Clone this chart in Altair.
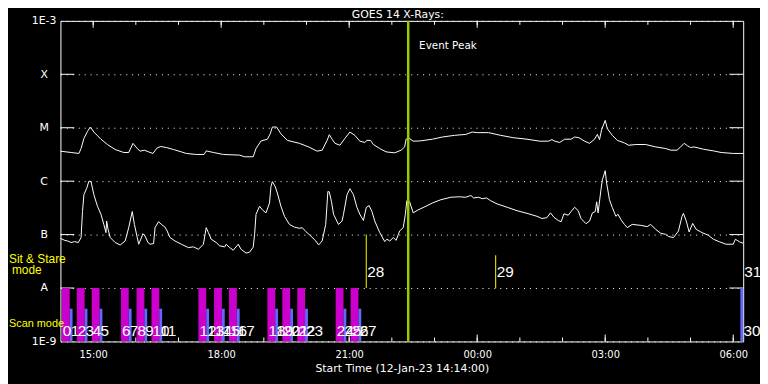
import altair as alt
import pandas as pd

FONT = "DejaVu Sans"
NUM_FONT = "Liberation Sans"

TITLE = "GOES 14 X-Rays:"
X_TITLE = "Start Time (12-Jan-23 14:14:00)"

# ---- GOES 14 light curves: minutes after 14:14 UT, flux in W/m^2 ----
long_t = [0, 15, 26, 29, 33, 38, 42, 47, 57, 66,
          77, 89, 96, 102, 108, 112, 118, 124, 130, 136,
          141, 149, 159, 170, 177, 191, 202, 205, 215, 229,
          252, 259, 271, 275, 282, 291, 295, 298, 304, 310,
          319, 336, 349, 361, 368, 375, 378, 382, 386, 393,
          400, 407, 414, 421, 428, 431, 436, 440, 449, 458,
          470, 479, 484, 486, 490, 496, 505, 523, 537, 554,
          570, 579, 586, 602, 619, 637, 656, 674, 686, 691,
          695, 702, 709, 718, 723, 729, 737, 744, 751, 755,
          758, 761, 766, 769, 776, 783, 793, 799, 809, 823,
          837, 851, 858, 867, 872, 877, 882, 886, 891, 904,
          918, 929, 946, 960]
long_flux = [3.64e-6, 3.44e-6, 3.30e-6, 4.08e-6, 6.3e-6, 8.5e-6, 1.03e-5, 8.3e-6, 6.1e-6, 4.85e-6,
             3.91e-6, 3.44e-6, 3.44e-6, 5.1e-6, 4.08e-6, 3.64e-6, 3.80e-6, 3.53e-6, 3.30e-6, 4.19e-6,
             4.45e-6, 4.26e-6, 3.91e-6, 3.53e-6, 3.30e-6, 3.16e-6, 3.16e-6, 3.69e-6, 3.44e-6, 3.16e-6,
             3.07e-6, 2.86e-6, 2.86e-6, 4.08e-6, 5.65e-6, 6.1e-6, 7.7e-6, 1.03e-5, 1.03e-5, 7.7e-6,
             5.8e-6, 5.1e-6, 4.37e-6, 3.64e-6, 3.80e-6, 5.8e-6, 7.4e-6, 6.1e-6, 5.1e-6, 4.7e-6,
             6.3e-6, 8.3e-6, 7.2e-6, 5.6e-6, 5.3e-6, 5.8e-6, 5.8e-6, 4.85e-6, 4.08e-6, 3.53e-6,
             3.39e-6, 3.80e-6, 4.37e-6, 6.1e-6, 6.4e-6, 5.6e-6, 5.65e-6, 6.1e-6, 6.7e-6, 7.2e-6,
             7.5e-6, 8.3e-6, 8.1e-6, 8.1e-6, 7.2e-6, 6.5e-6, 6.1e-6, 5.6e-6, 5.6e-6, 6.0e-6,
             5.6e-6, 5.3e-6, 6.1e-6, 6.1e-6, 6.7e-6, 6.5e-6, 5.6e-6, 5.1e-6, 6.1e-6, 7.5e-6,
             6.0e-6, 9.2e-6, 1.37e-5, 9.6e-6, 7.2e-6, 5.8e-6, 5.2e-6, 4.7e-6, 4.85e-6, 4.85e-6,
             4.37e-6, 4.08e-6, 3.80e-6, 3.80e-6, 4.37e-6, 5.1e-6, 4.56e-6, 4.26e-6, 4.37e-6, 3.96e-6,
             3.69e-6, 3.44e-6, 3.30e-6, 3.30e-6]

short_t = [0, 6, 10, 15, 20, 25, 29, 31, 33, 37,
           40, 43, 47, 52, 57, 61, 64, 65, 67, 70,
           77, 84, 91, 96, 101, 104, 108, 110, 113, 116,
           119, 123, 126, 131, 133, 138, 142, 147, 150, 154,
           161, 170, 180, 187, 194, 201, 205, 208, 212, 219,
           224, 231, 233, 238, 243, 250, 254, 261, 266, 271,
           273, 275, 280, 284, 289, 294, 296, 298, 302, 305,
           310, 315, 322, 329, 336, 340, 345, 352, 359, 363,
           368, 373, 376, 378, 381, 384, 391, 396, 398, 403,
           407, 412, 417, 421, 426, 430, 434, 438, 442, 449,
           456, 459, 463, 468, 472, 477, 482, 485, 487, 491,
           496, 503, 514, 523, 535, 549, 561, 570, 577, 581,
           588, 593, 599, 605, 614, 628, 642, 656, 670, 677,
           684, 689, 694, 700, 704, 708, 714, 718, 723, 728,
           732, 739, 744, 748, 752, 754, 756, 760, 762, 766,
           768, 772, 776, 781, 784, 788, 793, 797, 804, 816,
           825, 830, 837, 844, 851, 855, 862, 869, 874, 876,
           880, 884, 889, 894, 902, 911, 918, 927, 936, 946,
           949, 955, 960]
short_flux = [8.5e-8, 7.8e-8, 7.6e-8, 7.1e-8, 7.4e-8, 7.1e-8, 8.8e-8, 2.7e-7, 5.6e-7, 7.4e-7,
              1.0e-6, 9.8e-7, 5.6e-7, 3.4e-7, 2.4e-7, 1.55e-7, 1.09e-7, 1.79e-7, 1.25e-7, 8.8e-8,
              7.1e-8, 6.4e-8, 7.6e-8, 1.35e-7, 2.7e-7, 1.55e-7, 8.8e-8, 6.6e-8, 8.2e-8, 1.04e-7,
              9.4e-8, 7.1e-8, 6.6e-8, 6.8e-8, 1.35e-7, 1.74e-7, 1.55e-7, 1.38e-7, 1.17e-7, 8.8e-8,
              7.6e-8, 6.6e-8, 5.7e-8, 5.9e-8, 5.3e-8, 6.6e-8, 1.35e-7, 1.09e-7, 8.2e-8, 7.1e-8,
              6.15e-8, 5.9e-8, 6.6e-8, 5.7e-8, 5.1e-8, 6.6e-8, 5.3e-8, 4.5e-8, 4.7e-8, 5.8e-8,
              1.01e-7, 2.4e-7, 3.4e-7, 2.9e-7, 2.55e-7, 3.9e-7, 7.9e-7, 9.8e-7, 7.9e-7, 6.0e-7,
              3.4e-7, 2.2e-7, 1.55e-7, 1.38e-7, 1.31e-7, 1.35e-7, 1.14e-7, 9.4e-8, 7.6e-8, 6.4e-8,
              7.6e-8, 1.55e-7, 6.4e-7, 6.3e-7, 4.2e-7, 2.4e-7, 1.55e-7, 1.79e-7, 2.4e-7, 5.6e-7,
              7.2e-7, 5.6e-7, 3.2e-7, 2.4e-7, 1.84e-7, 3.2e-7, 3.5e-7, 2.7e-7, 1.79e-7, 1.09e-7,
              7.4e-8, 8.2e-8, 7.6e-8, 8.8e-8, 7.8e-8, 1.17e-7, 1.35e-7, 2.4e-7, 4.3e-7, 4.1e-7,
              2.55e-7, 2.9e-7, 3.4e-7, 3.9e-7, 4.5e-7, 5.0e-7, 5.1e-7, 5.0e-7, 5.4e-7, 4.85e-7,
              5.0e-7, 4.7e-7, 4.85e-7, 4.3e-7, 3.75e-7, 3.25e-7, 2.8e-7, 2.5e-7, 2.2e-7, 2.0e-7,
              2.07e-7, 2.55e-7, 2.1e-7, 1.84e-7, 1.74e-7, 2.45e-7, 2.3e-7, 2.7e-7, 3.25e-7, 2.8e-7,
              2.0e-7, 1.6e-7, 1.79e-7, 2.55e-7, 2.7e-7, 4.1e-7, 2.55e-7, 6.9e-7, 1.06e-6, 1.57e-6,
              9.2e-7, 4.5e-7, 3.2e-7, 2.2e-7, 2.4e-7, 1.92e-7, 1.55e-7, 1.35e-7, 1.55e-7, 1.49e-7,
              1.41e-7, 1.55e-7, 1.25e-7, 1.06e-7, 1.01e-7, 9.2e-8, 8.8e-8, 1.17e-7, 2.2e-7, 2.5e-7,
              1.79e-7, 1.12e-7, 1.62e-7, 1.25e-7, 1.09e-7, 9.7e-8, 8.2e-8, 7.3e-8, 6.6e-8, 6.6e-8,
              8.2e-8, 7.3e-8, 6.9e-8]

# ---- observation timeline (minutes after 14:14) ----
raster_start = [2, 23, 44, 85, 107, 128, 194, 216, 237, 291, 312, 333, 387, 408]
raster_end = [13, 34, 55, 96, 118, 139, 205, 227, 248, 302, 323, 344, 398, 419]
blue_start = [13, 34, 55, 96, 118, 139, 205, 227, 248, 302, 323, 344, 398, 419, 956]
blue_end = [17, 38, 59, 100, 122, 143, 209, 231, 252, 306, 327, 348, 402, 423, 960]
blue_top = [4.1e-9] * 14 + [1e-8]

scan_ids = [str(i) for i in range(28)] + ["30"]
scan_label_t = [2, 13, 23, 34, 44, 55, 85, 96, 107, 118, 128, 139, 194, 205,
                216, 227, 237, 248, 291, 302, 312, 323, 333, 344, 387, 398, 408, 419, 959]

stare_ids = ["28", "29", "31"]
stare_t = [430, 612, 960]
stare_top = [1e-7, 4.1e-8, 1e-8]

event_peak_t = [489]

# flux levels used for annotation rows
LEVEL_FLOOR = 1e-9
LEVEL_A = 1e-8
SCAN_TEXT_LEVEL = 1.24e-9
STARE_TEXT_LEVEL = 1.6e-8
PEAK_TEXT_LEVEL = 3.0e-4

# ---- axes ----
hour_ticks = [46, 106, 166, 226, 286, 346, 406, 466, 526, 586, 646, 706, 766, 826, 886, 946]
major_ticks = [46, 226, 406, 586, 766, 946]
major_labels = ["15:00", "18:00", "21:00", "00:00", "03:00", "06:00"]
decades = [1e-9, 1e-8, 1e-7, 1e-6, 1e-5, 1e-4, 1e-3]
decade_labels = ["1E-9", "A", "B", "C", "M", "X", "1E-3"]

side_labels = ["Sit & Stare", "mode", "Scan mode"]
side_levels = [3.0e-8, 1.84e-8, 1.9e-9]

curve_df = pd.concat([
    pd.DataFrame({"t": long_t, "flux": long_flux, "ch": "long"}),
    pd.DataFrame({"t": short_t, "flux": short_flux, "ch": "short"}),
])
raster_df = pd.DataFrame({"t": raster_start, "e": raster_end,
                          "flux": LEVEL_FLOOR, "top": LEVEL_A})
blue_df = pd.DataFrame({"t": blue_start, "e": blue_end, "flux": LEVEL_FLOOR, "top": blue_top})
scan_df = pd.DataFrame({"t": scan_label_t, "id": scan_ids, "flux": SCAN_TEXT_LEVEL})
stare_df = pd.DataFrame({"t": stare_t, "id": stare_ids, "top": stare_top,
                         "flux": LEVEL_A, "lv": STARE_TEXT_LEVEL})
peak_df = pd.DataFrame({"t": event_peak_t, "txt": ["Event Peak"], "flux": PEAK_TEXT_LEVEL})
hour_df = pd.DataFrame({"t": hour_ticks})
major_df = pd.DataFrame({"t": major_ticks})
dec_df = pd.DataFrame({"flux": decades[1:-1]})
side_df = pd.DataFrame({"txt": side_labels, "flux": side_levels})
title_df = pd.DataFrame({"txt": [TITLE]})

xexpr = ""
for v, lab in zip(major_ticks, major_labels):
    xexpr += f"datum.value == {v} ? '{lab}' : "
xexpr += "''"
yexpr = ""
for v, lab in zip(decades, decade_labels):
    yexpr += f"datum.value < {v * 3} ? '{lab}' : "
yexpr += "''"

xs = alt.Scale(domain=[0, 960], nice=False, zero=False)
ys = alt.Scale(type="log", domain=[1e-9, 1e-3], nice=False)

x_axis = alt.Axis(
    values=major_ticks, labelExpr=xexpr, title=X_TITLE,
    grid=False, domain=False, ticks=False, tickSize=0, labelPadding=8,
    labelFontSize=10, titleFontSize=11, titlePadding=3, labelFlush=False)
y_axis = alt.Axis(
    values=decades, labelExpr=yexpr, title=None, grid=True, gridDash=[1, 5],
    gridColor="white", gridOpacity=1, domain=False, ticks=False, tickSize=0,
    labelPadding=17, labelAlign="center", labelBaseline="middle",
    labelFontSize=11, labelFlush=False)

X = alt.X("t:Q", scale=xs, axis=x_axis)
Y = alt.Y("flux:Q", scale=ys, axis=y_axis)

curves = alt.Chart(curve_df).mark_line(color="white", strokeWidth=1).encode(
    x=X, y=Y, detail="ch:N")

minor_bot = alt.Chart(hour_df).mark_rule(color="white").encode(
    x=X, y=alt.value(324), y2=alt.value(320))
minor_top = alt.Chart(hour_df).mark_rule(color="white").encode(
    x=X, y=alt.value(0), y2=alt.value(4))
major_bot = alt.Chart(major_df).mark_rule(color="white").encode(
    x=X, y=alt.value(324), y2=alt.value(317))
major_top = alt.Chart(major_df).mark_rule(color="white").encode(
    x=X, y=alt.value(0), y2=alt.value(7))
dec_left = alt.Chart(dec_df).mark_rule(color="white").encode(
    y=Y, x=alt.value(0), x2=alt.value(14))
dec_right = alt.Chart(dec_df).mark_rule(color="white").encode(
    y=Y, x=alt.value(676), x2=alt.value(690))

raster = alt.Chart(raster_df).mark_rect(color="#cc00cc").encode(
    x=X, x2="e:Q", y=Y, y2="top:Q")
blue = alt.Chart(blue_df).mark_rect(color="#6666ff").encode(
    x=X, x2="e:Q", y=Y, y2="top:Q")
scan_text = alt.Chart(scan_df).mark_text(
    align="left", baseline="alphabetic", color="white", font=NUM_FONT, fontSize=15.5, dx=1
).encode(x=X, y=Y, text="id:N")

stare_rule = alt.Chart(stare_df).mark_rule(color="#ffff00").encode(
    x=X, y=Y, y2="top:Q")
stare_text = alt.Chart(stare_df).mark_text(
    align="left", baseline="alphabetic", color="white", font=NUM_FONT, fontSize=15.5, dx=1
).encode(x=X, y=alt.Y("lv:Q", scale=ys, axis=y_axis), text="id:N")

peak_rule = alt.Chart(peak_df).mark_rule(color="#99cc00", strokeWidth=2.5).encode(x=X)
peak_text = alt.Chart(peak_df).mark_text(
    align="left", baseline="alphabetic", color="white", font=FONT, fontSize=10.5, dx=11
).encode(x=X, y=Y, text="txt:N")

side_sit = alt.Chart(side_df).transform_filter(alt.datum.txt == "Sit & Stare").mark_text(
    align="left", baseline="alphabetic", color="#ffff00", font=NUM_FONT, fontSize=12
).encode(x=alt.value(-52), y=Y, text="txt:N")
side_mode = alt.Chart(side_df).transform_filter(alt.datum.txt == "mode").mark_text(
    align="left", baseline="alphabetic", color="#ffff00", font=NUM_FONT, fontSize=12
).encode(x=alt.value(-49), y=Y, text="txt:N")
side_scan = alt.Chart(side_df).transform_filter(alt.datum.txt == "Scan mode").mark_text(
    align="left", baseline="alphabetic", color="#ffff00", font=NUM_FONT, fontSize=11
).encode(x=alt.value(-52), y=Y, text="txt:N")

title_text = alt.Chart(title_df).mark_text(
    align="center", baseline="alphabetic", color="white", font=FONT, fontSize=11
).encode(x=alt.value(341), y=alt.value(-3), text="txt:N")

chart = alt.layer(
    curves, minor_bot, minor_top, major_bot, major_top, dec_left, dec_right,
    raster, blue, scan_text, stare_rule, stare_text, peak_rule, peak_text,
    side_sit, side_mode, side_scan, title_text,
).properties(
    width=690, height=324,
    autosize=alt.AutoSizeParams(type="none"),
    padding={"left": 53, "top": 11, "right": 17, "bottom": 41},
    background="black",
).configure_view(stroke="white", strokeWidth=1).configure_axis(
    labelColor="white", titleColor="white", labelFont=FONT, titleFont=FONT,
    titleFontWeight="normal",
)

chart.save("out.html", embed_options={"renderer": "svg", "actions": False})
